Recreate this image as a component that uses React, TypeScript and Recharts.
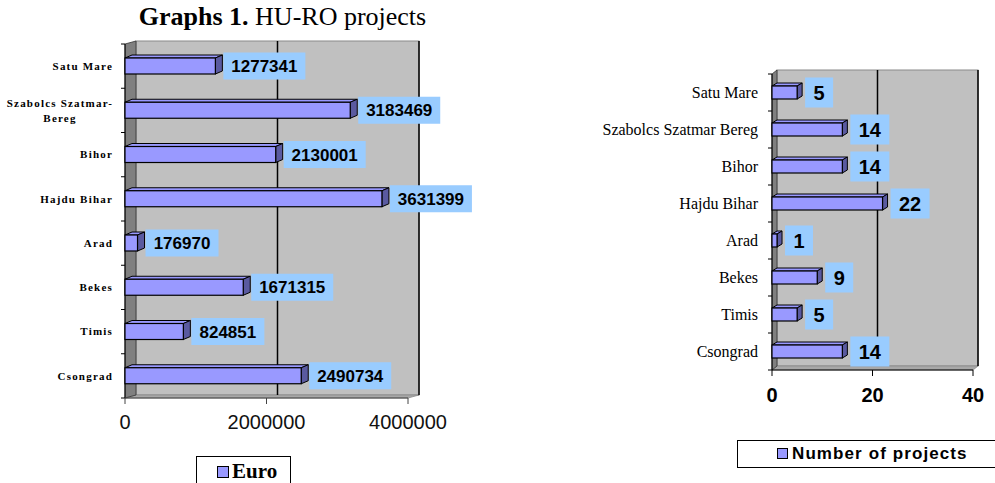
import React from 'react';
import { BarChart, Bar, XAxis, YAxis, ReferenceArea, LabelList, Legend } from 'recharts';

const euroCategories = ['Satu Mare', 'Szabolcs Szatmar-\nBereg', 'Bihor', 'Hajdu Bihar', 'Arad', 'Bekes', 'Timis', 'Csongrad'];
const euroValues = [1277341, 3183469, 2130001, 3631399, 176970, 1671315, 824851, 2490734];
const euroTicks = [0, 2000000, 4000000];

const projectCategories = ['Satu Mare', 'Szabolcs Szatmar Bereg', 'Bihor', 'Hajdu Bihar', 'Arad', 'Bekes', 'Timis', 'Csongrad'];
const projectValues = [5, 14, 14, 22, 1, 9, 5, 14];
const projectTicks = [0, 20, 40];

const euroData = euroCategories.map((name, i) => ({ name, value: euroValues[i] }));
const projectData = projectCategories.map((name, i) => ({ name, value: projectValues[i] }));

const SERIF = '"Liberation Serif", "Times New Roman", serif';
const SANS = '"Liberation Sans", Arial, sans-serif';
const BAR_FILL = '#9999FF';
const BAR_SIDE = '#5A5AA0';
const LABEL_BG = '#99CCFF';

const makeWall = (dx: number, dy: number, ticks: number[], max: number, n: number) => (props: any) => {
  const { x, y, width, height } = props;
  if (x == null) return null;
  const b = y + height;
  const r = x + width;
  const grid = ticks.filter((t) => t > 0).map((t) => x + (width * t) / max + dx);
  const bounds = Array.from({ length: n + 1 }, (_, i) => y + (height * i) / n);
  return (
    <g>
      <rect x={x + dx} y={y + dy} width={width} height={height} fill="#C0C0C0" stroke="#8a8a8a" strokeWidth={1} />
      <polygon points={`${x},${b} ${x + dx},${b + dy} ${r + dx},${b + dy} ${r},${b}`} fill="#a8a8a8" stroke="#8a8a8a" strokeWidth={0.8} />
      <polygon points={`${x},${y} ${x + dx},${y + dy} ${x + dx},${b + dy} ${x},${b}`} fill="#808080" stroke="#333" strokeWidth={0.8} />
      {grid.map((gx, i) => (
        <line key={i} x1={gx} y1={y + dy} x2={gx} y2={b + dy} stroke="#000" strokeWidth={1.5} />
      ))}
      <line x1={x} y1={y} x2={x} y2={b} stroke="#000" strokeWidth={1} />
      {bounds.map((by, i) => (
        <line key={'t' + i} x1={x - 4} y1={by} x2={x} y2={by} stroke="#000" strokeWidth={1} />
      ))}
    </g>
  );
};

const make3DBar = (cx: number, cy: number) => (props: any) => {
  const { x, y, width, height } = props;
  if (x == null || width == null) return null;
  const r = x + width;
  return (
    <g>
      <polygon points={`${x},${y} ${x + cx},${y + cy} ${r + cx},${y + cy} ${r},${y}`} fill={BAR_FILL} stroke="#000" strokeWidth={1} />
      <polygon points={`${r},${y} ${r + cx},${y + cy} ${r + cx},${y + height + cy} ${r},${y + height}`} fill={BAR_SIDE} stroke="#000" strokeWidth={1} />
      <rect x={x} y={y} width={width} height={height} fill={BAR_FILL} stroke="#000" strokeWidth={1.2} />
    </g>
  );
};

const makeLabel = (offset: number, fontSize: number, charW: number, pad: number, boxH: number) => (props: any) => {
  const { x, y, width, height, value } = props;
  if (x == null) return null;
  const text = String(value);
  const bw = text.length * charW + pad;
  const bx = x + width + offset;
  const cy = y + height / 2;
  return (
    <g>
      <rect x={bx} y={cy - boxH / 2} width={bw} height={boxH} fill={LABEL_BG} />
      <text x={bx + bw / 2} y={cy} dy="0.36em" textAnchor="middle" fontFamily={SANS} fontWeight="bold" fontSize={fontSize} fill="#000">
        {text}
      </text>
    </g>
  );
};

const EuroTick = (props: any) => {
  const { x, y, payload } = props;
  const lines = String(payload.value).split('\n');
  const common = { fontFamily: SERIF, fontWeight: 'bold' as const, fontSize: 11, fill: '#000', letterSpacing: 1.2 };
  if (lines.length === 1) {
    return (
      <text x={x} y={y} dy="0.35em" textAnchor="end" {...common}>
        {lines[0]}
      </text>
    );
  }
  const cx = x - 53;
  return (
    <text textAnchor="middle" {...common}>
      {lines.map((l, i) => (
        <tspan key={i} x={cx} y={y + (i - (lines.length - 1) / 2) * 15} dy="0.35em">
          {l}
        </tspan>
      ))}
    </text>
  );
};

const EuroLegend = () => (
  <div style={{ width: 95, height: 30, border: '1px solid #000', boxSizing: 'border-box', background: '#fff', position: 'relative' }}>
    <div style={{ position: 'absolute', left: 20, top: 9, width: 10, height: 10, background: BAR_FILL, border: '1.5px solid #000' }} />
    <div style={{ position: 'absolute', left: 35, top: 1, fontFamily: SERIF, fontWeight: 'bold', fontSize: 21, lineHeight: '26px', color: '#000' }}>Euro</div>
  </div>
);

const ProjectLegend = () => (
  <div style={{ width: 270, height: 28, border: '1px solid #000', boxSizing: 'border-box', background: '#fff', position: 'relative' }}>
    <div style={{ position: 'absolute', left: 39, top: 7, width: 9, height: 9, background: BAR_FILL, border: '1.5px solid #000' }} />
    <div style={{ position: 'absolute', left: 54, top: 1, fontFamily: SANS, fontWeight: 'bold', fontSize: 17, letterSpacing: 1.1, lineHeight: '24px', color: '#000', whiteSpace: 'nowrap' }}>
      Number of projects
    </div>
  </div>
);

export default function App() {
  return (
    <div style={{ position: 'absolute', left: 0, top: 0, width: 995, height: 483, background: '#fff', overflow: 'hidden' }}>
      <div style={{ position: 'absolute', left: 0, top: 1, width: 565, textAlign: 'center', fontFamily: SERIF, fontSize: 26, lineHeight: '32px', color: '#000', whiteSpace: 'nowrap' }}>
        <b>Graphs 1.</b> HU-RO projects
      </div>

      <div style={{ position: 'absolute', left: 0, top: 0 }}>
        <BarChart width={480} height={483} data={euroData} layout="vertical" margin={{ top: 44, right: 72, bottom: 55, left: 0 }} barSize={16}>
          <ReferenceArea x1={0} x2={4000000} shape={makeWall(11, -3, euroTicks, 4000000, euroData.length)} />
          <XAxis
            type="number"
            domain={[0, 4000000]}
            ticks={euroTicks}
            interval={0}
            height={30}
            tickSize={6}
            tickMargin={11}
            axisLine={{ stroke: '#444' }}
            tickLine={{ stroke: '#444' }}
            tick={{ fontFamily: SANS, fontSize: 20, fill: '#111' }}
          />
          <YAxis type="category" dataKey="name" width={125} tickSize={0} tickMargin={12} axisLine={false} tickLine={false} tick={<EuroTick />} interval={0} />
          <Bar dataKey="value" isAnimationActive={false} shape={make3DBar(7, -3)}>
            <LabelList dataKey="value" content={makeLabel(8, 17, 9, 19, 27)} />
          </Bar>
          <Legend verticalAlign="middle" align="center" wrapperStyle={{ left: 196, top: 456, width: 95, height: 30 }} content={<EuroLegend />} />
        </BarChart>
      </div>

      <div style={{ position: 'absolute', left: 500, top: 0 }}>
        <BarChart width={495} height={483} data={projectData} layout="vertical" margin={{ top: 74, right: 22, bottom: 83, left: 0 }} barSize={13}>
          <ReferenceArea x1={0} x2={40} shape={makeWall(5, -4, projectTicks, 40, projectData.length)} />
          <XAxis
            type="number"
            domain={[0, 40]}
            ticks={projectTicks}
            interval={0}
            height={30}
            tickSize={6}
            tickMargin={12}
            axisLine={{ stroke: '#000' }}
            tickLine={{ stroke: '#000' }}
            tick={{ fontFamily: SANS, fontSize: 20, fontWeight: 'bold', fill: '#000' }}
          />
          <YAxis
            type="category"
            dataKey="name"
            width={272}
            tickSize={0}
            tickMargin={14}
            axisLine={false}
            tickLine={false}
            interval={0}
            tick={{ fontFamily: SERIF, fontSize: 16, fill: '#000' }}
          />
          <Bar dataKey="value" isAnimationActive={false} shape={make3DBar(5, -3)}>
            <LabelList dataKey="value" content={makeLabel(8, 20, 11, 17, 30)} />
          </Bar>
          <Legend verticalAlign="middle" align="center" wrapperStyle={{ left: 237, top: 440, width: 270, height: 28 }} content={<ProjectLegend />} />
        </BarChart>
      </div>
    </div>
  );
}
